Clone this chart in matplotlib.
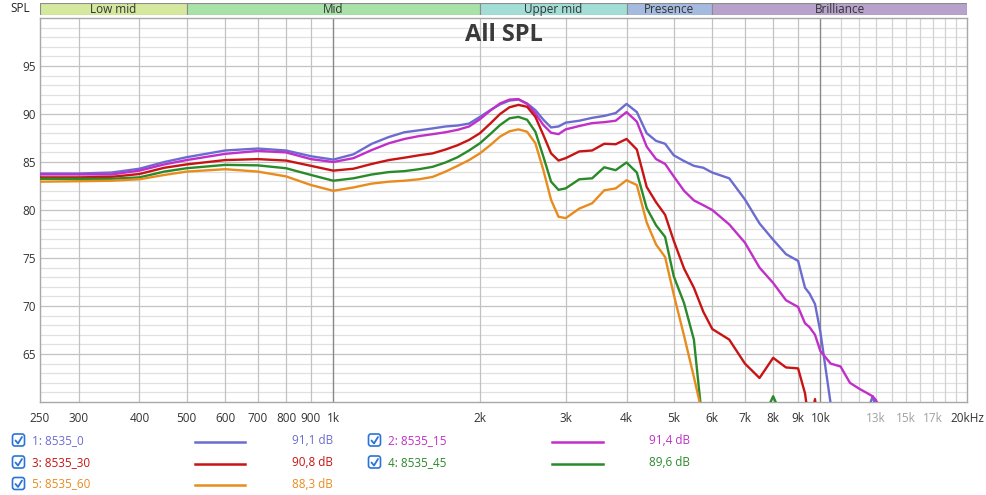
import numpy as np
import matplotlib
matplotlib.use("Agg")
import matplotlib.pyplot as plt
from matplotlib.patches import FancyBboxPatch

plt.rcParams['font.family'] = ['Open Sans', 'DejaVu Sans']

nan = float('nan')

FREQ = [250, 300, 350, 400, 450, 500, 600, 700, 800, 900, 1000,
        1100, 1200, 1300, 1400, 1500, 1600, 1700, 1800, 1900, 2000,
        2100, 2200, 2300, 2400, 2500, 2600, 2700, 2800, 2900, 3000,
        3200, 3400, 3600, 3800, 4000,
        4200, 4400, 4600, 4800, 5000, 5250, 5500, 5750, 6000,
        6500, 7000, 7500, 8000, 8500, 9000, 9300, 9500, 9750, 10000,
        10500, 11000, 11500, 12000, 12500, 12800, 13000, 13500]

SPL_0 = [83.8, 83.8, 83.9, 84.3, 85.0, 85.5, 86.2, 86.4, 86.2, 85.6, 85.25,
         85.8, 86.9, 87.6, 88.1, 88.3, 88.5, 88.7, 88.8, 89.0, 89.7,
         90.4, 91.0, 91.4, 91.5, 91.1, 90.4, 89.4, 88.6, 88.7, 89.1,
         89.3, 89.6, 89.8, 90.1, 91.05,
         90.2, 88.0, 87.2, 86.9, 85.7, 85.1, 84.6, 84.4, 83.9,
         83.3, 81.1, 78.6, 76.9, 75.4, 74.7, 71.9, 71.3, 70.2, 67.3,
         59.8, 55.0, 55.5, 57.0, 59.0, 60.6, 59.5, 56.0]

SPL_15 = [83.7, 83.7, 83.7, 84.1, 84.75, 85.2, 85.85, 86.15, 86.0, 85.3, 85.0,
          85.4, 86.25, 86.95, 87.4, 87.7, 87.9, 88.1, 88.35, 88.7, 89.45,
          90.35, 91.1, 91.5, 91.55, 91.05, 90.05, 88.85, 88.05, 87.9, 88.4,
          88.75, 89.05, 89.15, 89.3, 90.2,
          89.2, 86.6, 85.3, 84.8, 83.5, 82.0, 81.0, 80.5, 80.0,
          78.5, 76.6, 74.0, 72.4, 70.6, 69.9, 68.2, 67.8, 67.0, 65.3,
          64.0, 63.7, 62.0, 61.4, 60.9, 60.6, 60.2, 58.5]

SPL_30 = [83.4, 83.4, 83.45, 83.75, 84.4, 84.75, 85.2, 85.3, 85.15, 84.6, 84.1,
          84.3, 84.8, 85.2, 85.45, 85.7, 85.9, 86.3, 86.75, 87.3, 88.0,
          89.0, 90.0, 90.7, 90.95, 90.75, 89.7, 87.8, 85.9, 85.15, 85.4,
          86.1, 86.2, 86.9, 86.85, 87.4,
          86.3, 82.4, 80.8, 79.5, 76.8, 73.9, 71.9, 69.4, 67.6,
          66.5, 64.0, 62.5, 64.6, 63.6, 63.5, 60.9, 57.5, 60.3, 55.0,
          nan, nan, nan, nan, nan, nan, nan, nan]

SPL_45 = [83.25, 83.25, 83.25, 83.4, 84.0, 84.35, 84.7, 84.65, 84.35, 83.65, 83.05,
          83.3, 83.7, 83.95, 84.05, 84.25, 84.5, 84.95, 85.5, 86.2, 86.95,
          87.9, 88.85, 89.55, 89.7, 89.4, 88.15, 85.55, 82.95, 82.1, 82.25,
          83.2, 83.3, 84.45, 84.15, 84.95,
          83.9, 80.2, 78.4, 77.2, 73.1, 70.3, 66.5, 57.0, 50.0,
          48.0, 50.0, 57.5, 60.6, 57.5, 50.0, nan, nan, nan, nan,
          nan, nan, nan, nan, nan, nan, nan, nan]

SPL_60 = [82.95, 83.0, 83.05, 83.2, 83.65, 84.0, 84.25, 84.0, 83.5, 82.6, 82.0,
          82.35, 82.75, 82.95, 83.05, 83.2, 83.45, 84.0, 84.6, 85.2, 85.9,
          86.75, 87.65, 88.2, 88.4, 88.15, 86.95, 84.15, 81.05, 79.3, 79.15,
          80.15, 80.7, 82.05, 82.25, 83.1,
          82.6, 78.7, 76.4, 75.1, 71.2, 66.9, 62.6, 58.3, 55.0,
          nan, nan, nan, nan, nan, nan, nan, nan, nan, nan,
          nan, nan, nan, nan, nan, nan, nan, nan]

NAMES = ["1: 8535_0", "2: 8535_15", "3: 8535_30", "4: 8535_45", "5: 8535_60"]
LEVELS = ["91,1 dB", "91,4 dB", "90,8 dB", "89,6 dB", "88,3 dB"]
COLORS = ["#6c6cd0", "#c030c8", "#c81414", "#2a8a2a", "#e88c1e"]
SERIES = [SPL_0, SPL_15, SPL_30, SPL_45, SPL_60]

BANDS = [("Low mid", 250, 500, "#d4e89e"), ("Mid", 500, 2000, "#a8e2a8"),
         ("Upper mid", 2000, 4000, "#a2ded6"), ("Presence", 4000, 6000, "#a4badf"),
         ("Brilliance", 6000, 20000, "#b6a2ca")]

XTICKS = [250, 300, 400, 500, 600, 700, 800, 900, 1000, 2000, 3000, 4000, 5000,
          6000, 7000, 8000, 9000, 10000, 13000, 15000, 17000, 20000]
XLABELS = ["250", "300", "400", "500", "600", "700", "800", "900", "1k", "2k", "3k",
           "4k", "5k", "6k", "7k", "8k", "9k", "10k", "13k", "15k", "17k", "20kHz"]
GREY_LABELS = ["13k", "15k", "17k"]
YTICKS = [65, 70, 75, 80, 85, 90, 95]

W, H = 987, 495
fig = plt.figure(figsize=(W / 100, H / 100), dpi=100)
fig.patch.set_facecolor("white")


def fx(px):
    return px / W


def fy(py):
    return 1 - py / H


ax = fig.add_axes([fx(40), fy(402), fx(967) - fx(40), fy(18) - fy(402)])
ax.set_xscale("log")
ax.set_xlim(250, 20000)
ax.set_ylim(60, 100)

# horizontal grid
for v in range(61, 100):
    major = v % 5 == 0
    ax.axhline(v, color="#c2c2c2" if major else "#e0e0e0", lw=0.9, zorder=0)
# vertical grid
vlines = [300, 400, 500, 600, 700, 800, 900, 2000, 3000, 4000, 5000, 6000,
          7000, 8000, 9000]
for f in vlines:
    ax.axvline(f, color="#c2c2c2", lw=0.9, zorder=0)
for f in range(11000, 20000, 1000):
    ax.axvline(f, color="#d2d2d2", lw=0.9, zorder=0)
for f in [1000, 10000]:
    ax.axvline(f, color="#888888", lw=1.0, zorder=0)

for sp in ax.spines.values():
    sp.set_color("#a8a8a8")
    sp.set_linewidth(1.0)

ax.set_xticks(XTICKS)
ax.set_xticklabels(XLABELS)
ax.xaxis.set_minor_locator(matplotlib.ticker.NullLocator())
ax.set_yticks(YTICKS)
ax.set_yticklabels([str(t) for t in YTICKS])
ax.tick_params(axis="both", length=0, labelsize=8.5, colors="#333333")
ax.tick_params(axis="x", pad=7)
ax.tick_params(axis="y", pad=3)
for lab in ax.get_xticklabels():
    if lab.get_text() in GREY_LABELS:
        lab.set_color("#a0a0a0")

freq = np.array(FREQ, dtype=float)
for vals, col in zip(SERIES, COLORS):
    ax.plot(freq, np.array(vals, dtype=float), color=col, lw=1.7,
            solid_joinstyle="round", solid_capstyle="round", zorder=3)

ax.text(0.5, (402 - 35) / 384, "All SPL", transform=ax.transAxes, ha="center",
        va="center", fontsize=17, fontweight="bold", color="#3a3a3a", zorder=5)

# frequency band strip
bx = fig.add_axes([fx(40), fy(15), fx(967) - fx(40), fy(2.5) - fy(15)])
bx.set_xscale("log")
bx.set_xlim(250, 20000)
bx.set_ylim(0, 1)
bx.axis("off")
for name, f0, f1, col in BANDS:
    bx.axvspan(f0, f1, ymin=0, ymax=1, facecolor=col, edgecolor="#8c8c8c", lw=0.8)
    bx.text(np.sqrt(f0 * f1), 0.45, name, ha="center", va="center",
            fontsize=8.5, color="#333333")
fig.text(fx(20), fy(8.5), "SPL", ha="center", va="center", fontsize=8.5,
         color="#222222")

# legend overlay
ov = fig.add_axes([0, 0, 1, 1])
ov.set_xlim(0, W)
ov.set_ylim(H, 0)
ov.axis("off")

cols = [dict(cb=12.5, lab=32, l0=195, l1=245, val=292),
        dict(cb=368.5, lab=388, l0=552, l1=603, val=649)]
rows = [440.5, 462.5, 484.0]
for i, (name, lvl, col) in enumerate(zip(NAMES, LEVELS, COLORS)):
    c = cols[i % 2]
    y = rows[i // 2]
    box = FancyBboxPatch((c["cb"], y - 6.5), 12, 12,
                         boxstyle="round,pad=0,rounding_size=2.5",
                         fc="white", ec="#2a74d6", lw=1.2)
    ov.add_patch(box)
    ov.plot([c["cb"] + 3, c["cb"] + 5.5, c["cb"] + 9.5],
            [y, y + 3, y - 3.5], color="#2a74d6", lw=1.3,
            solid_capstyle="round", solid_joinstyle="round")
    ov.text(c["lab"], y, name, ha="left", va="center", fontsize=8.5, color=col)
    ov.plot([c["l0"], c["l1"]], [y + 1, y + 1], color=col, lw=1.8)
    ov.text(c["val"], y, lvl, ha="left", va="center", fontsize=8.5, color=col)

fig.savefig("out.png", dpi=100, facecolor="white")
